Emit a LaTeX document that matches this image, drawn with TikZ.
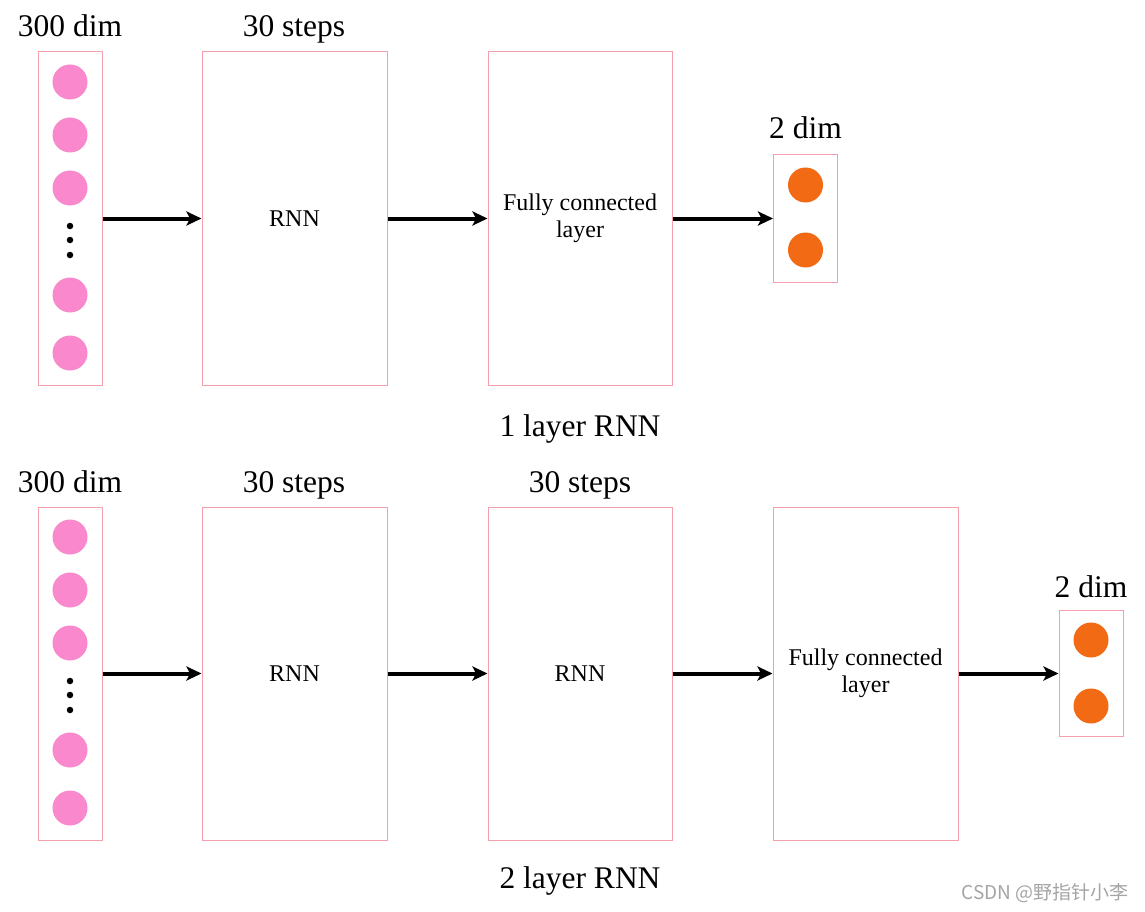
\documentclass[tikz,border=0pt]{standalone}
\usepackage{fontspec}
\setmainfont{Liberation Serif}
\newfontfamily\cjk{Noto Sans CJK SC}
\usetikzlibrary{arrows.meta}
\definecolor{boxpink}{RGB}{245,160,172}
\definecolor{dotpink}{RGB}{249,136,204}
\definecolor{dotorange}{RGB}{242,106,20}
\definecolor{wmgrey}{RGB}{165,165,165}
\tikzset{
  frame/.style={draw=boxpink,line width=1pt,fill=white},
  pinkdot/.style={circle,fill=dotpink,minimum size=35pt,inner sep=0pt},
  orangedot/.style={circle,fill=dotorange,minimum size=35pt,inner sep=0pt},
  smalldot/.style={circle,fill=black,minimum size=6.5pt,inner sep=0pt},
  title/.style={font=\fontsize{31.5}{34}\selectfont,inner sep=0pt,anchor=base},
  label/.style={font=\fontsize{24}{27}\selectfont,align=center,inner sep=0pt},
  caption/.style={font=\fontsize{31.5}{34}\selectfont,inner sep=0pt,anchor=base},
  conn/.style={line width=4pt,-{Stealth[length=15pt,width=14pt,inset=3.5pt]}},
}
\begin{document}
\begin{tikzpicture}[x=1pt,y=-1pt]
\useasboundingbox (0,0) rectangle (1145,912);
\fill[white] (0,0) rectangle (1145,912);
% ---------- top: 1 layer RNN ----------
\node[frame,minimum width=64pt,minimum height=333pt,inner sep=0pt] (inA) at (70,218.5) {};
\node[pinkdot] (pa1) at (70,82) {};
\node[pinkdot] (pa2) at (70,135) {};
\node[pinkdot] (pa3) at (70,188) {};
\node[smalldot] (da1) at (70,226) {};
\node[smalldot] (da2) at (70,240) {};
\node[smalldot] (da3) at (70,255) {};
\node[pinkdot] (pa4) at (70,295) {};
\node[pinkdot] (pa5) at (70,353) {};
\node[title] (tinA) at (70,37) {300 dim};

\node[frame,minimum width=185pt,minimum height=333pt,inner sep=0pt,label] (rnnA) at (294.5,218.5) {RNN};
\node[title] (trnnA) at (294,37) {30 steps};

\node[frame,minimum width=184pt,minimum height=333pt,inner sep=0pt,label] (fcA) at (580,218.5) {Fully connected\\layer};

\node[frame,minimum width=64pt,minimum height=127pt,inner sep=0pt] (outA) at (805.5,218.5) {};
\node[orangedot] (oa1) at (805.5,185) {};
\node[orangedot] (oa2) at (805.5,250) {};
\node[title] (toutA) at (805.5,139) {2 dim};

\draw[conn] (inA.east) -- (rnnA.west);
\draw[conn] (rnnA.east) -- (fcA.west);
\draw[conn] (fcA.east) -- (outA.west);

\node[caption] (capA) at (580,436) {1 layer RNN};

% ---------- bottom: 2 layer RNN ----------
\node[frame,minimum width=64pt,minimum height=333pt,inner sep=0pt] (inB) at (70,673.5) {};
\node[pinkdot] (pb1) at (70,537) {};
\node[pinkdot] (pb2) at (70,590) {};
\node[pinkdot] (pb3) at (70,643) {};
\node[smalldot] (db1) at (70,681) {};
\node[smalldot] (db2) at (70,695) {};
\node[smalldot] (db3) at (70,710) {};
\node[pinkdot] (pb4) at (70,750) {};
\node[pinkdot] (pb5) at (70,808) {};
\node[title] (tinB) at (70,492) {300 dim};

\node[frame,minimum width=185pt,minimum height=333pt,inner sep=0pt,label] (rnnB) at (294.5,673.5) {RNN};
\node[title] (trnnB) at (294,492) {30 steps};

\node[frame,minimum width=184pt,minimum height=333pt,inner sep=0pt,label] (rnnC) at (580,673.5) {RNN};
\node[title] (trnnC) at (580,492) {30 steps};

\node[frame,minimum width=185pt,minimum height=333pt,inner sep=0pt,label] (fcB) at (865.5,673.5) {Fully connected\\layer};

\node[frame,minimum width=64pt,minimum height=126pt,inner sep=0pt] (outB) at (1091,673.5) {};
\node[orangedot] (ob1) at (1091,640) {};
\node[orangedot] (ob2) at (1091,706) {};
\node[title] (toutB) at (1091,597) {2 dim};

\draw[conn] (inB.east) -- (rnnB.west);
\draw[conn] (rnnB.east) -- (rnnC.west);
\draw[conn] (rnnC.east) -- (fcB.west);
\draw[conn] (fcB.east) -- (outB.west);

\node[caption] (capB) at (580,888) {2 layer RNN};

\node[font=\cjk\fontsize{19}{22}\selectfont,text=wmgrey,inner sep=0pt] (wm) at (1045,893) {CSDN @野指针小李};
\end{tikzpicture}
\end{document}
